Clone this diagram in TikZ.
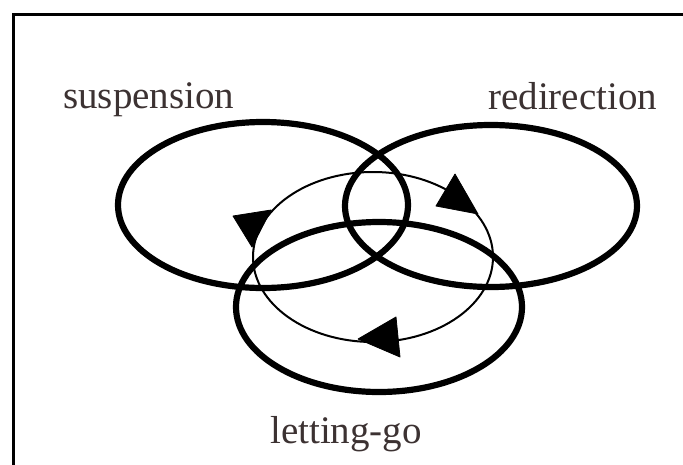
\documentclass[tikz,border=0pt]{standalone}
\usepackage{fontspec}
\setmainfont{Liberation Serif}
\definecolor{txt}{RGB}{60,50,50}
\begin{document}
\begin{tikzpicture}[x=1pt,y=-1pt,
  thickring/.style={line width=6.2pt},
  thinring/.style={line width=2pt},
  arrowhead/.style={fill=black,draw=black,line width=0.8pt,line join=round},
  lbl/.style={inner sep=0pt,anchor=base west,text=txt,font=\fontsize{39}{40}\selectfont}]
\useasboundingbox (0,0) rectangle (683,464);
\fill[white] (0,0) rectangle (683,464);
% frame (only left and top edges are visible)
\draw[line width=3pt] (13.5,470) -- (13.5,14.5) -- (690,14.5);
% three thick ellipses
\draw[thickring] (263,205) ellipse [x radius=145, y radius=83];
\draw[thickring] (491,206) ellipse [x radius=146, y radius=81];
\draw[thickring] (379,307) ellipse [x radius=143, y radius=85];
% thin cycle
\draw[thinring] (373,257) ellipse [x radius=120, y radius=85];
% arrowheads on the thin cycle
\filldraw[arrowhead] (455,174) -- (436,206) -- (478,214) -- cycle;
\filldraw[arrowhead] (233,216) -- (271,210) -- (252,247) -- cycle;
\filldraw[arrowhead] (396,317) -- (400,357) -- (358,339) -- cycle;
% labels
\node[lbl] (susp) at (63,108) {suspension};
\node[lbl] (redir) at (488,109) {redirection};
\node[lbl] (lgo) at (270,443) {letting-go};
\end{tikzpicture}
\end{document}
